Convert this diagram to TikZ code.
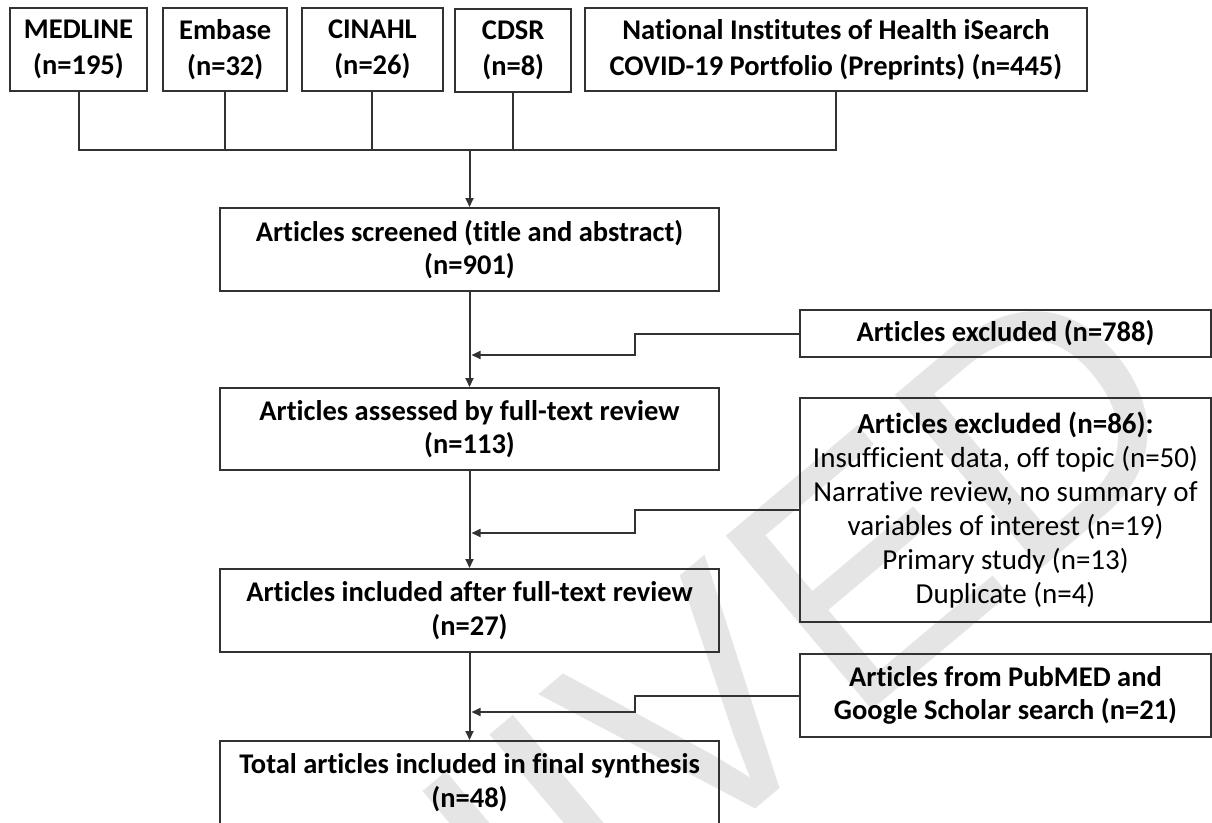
\documentclass[tikz,border=0pt]{standalone}
\usepackage{fontspec}
\setmainfont{Carlito}[Ligatures=NoCommon]
\newfontfamily\wmfont{Liberation Sans}
\usetikzlibrary{arrows.meta}
\definecolor{lc}{RGB}{50,50,50}
\definecolor{wm}{RGB}{229,229,229}
\tikzset{
  box/.style={draw=lc, line width=2pt, align=center, inner sep=0pt,
    font=\bfseries\fontsize{28.5}{33.5}\selectfont},
  topbox/.style={box, font=\bfseries\fontsize{28.5}{36}\selectfont},
  listbox/.style={draw=lc, line width=2pt, align=center, inner sep=0pt,
    font=\fontsize{29}{34}\selectfont},
  conn/.style={draw=lc, line width=2pt},
  arr/.style={conn, -{Triangle[length=9pt,width=8pt]}},
  wmark/.style={text=wm, font=\wmfont\fontsize{330}{330}\selectfont, inner sep=0pt}
}
\begin{document}
\begin{tikzpicture}[x=1pt,y=-1pt]
\useasboundingbox (0,0) rectangle (1212,822);
\clip (0,0) rectangle (1212,822);
% watermark
\node[wmark, rotate=40, anchor=east] (wm) at (1130,346) {ARCHIVED};

% top row
\node[topbox, minimum width=137.7pt, minimum height=82.4pt] (med) at (78.5,49.5) {MEDLINE\\(n=195)};
\node[topbox, minimum width=123.6pt, minimum height=82.4pt] (emb) at (225.2,49.5) {Embase\\(n=32)};
\node[topbox, minimum width=141.6pt, minimum height=82.4pt] (cin) at (372.4,49.5) {CINAHL\\(n=26)};
\node[topbox, minimum width=115.6pt, minimum height=83pt] (cds) at (513.2,50.8) {CDSR\\(n=8)};
\node[topbox, minimum width=502pt, minimum height=82.4pt] (nih) at (835.9,49.5) {National Institutes of Health iSearch\\COVID-19 Portfolio (Preprints) (n=445)};

% main column
\node[box, minimum width=499pt, minimum height=83pt] (scr) at (469.5,249.5) {Articles screened (title and abstract)\\(n=901)};
\node[box, minimum width=499pt, minimum height=82pt] (ass) at (469.5,429) {Articles assessed by full-text review\\(n=113)};
\node[box, minimum width=499pt, minimum height=83pt] (inc) at (469.5,610.5) {Articles included after full-text review\\(n=27)};
\node[box, minimum width=499pt, minimum height=83pt] (fin) at (469.5,782.5) {Total articles included in final synthesis\\(n=48)};

% right column
\node[box, minimum width=411pt, minimum height=47pt] (ex1) at (1005.5,333.5) {Articles excluded (n=788)};
\node[listbox, minimum width=411pt, minimum height=224pt] (ex2) at (1005.5,510) {\textbf{Articles excluded (n=86):}\\Insufficient data, off topic (n=50)\\Narrative review, no summary of\\variables of interest (n=19)\\Primary study (n=13)\\Duplicate (n=4)};
\node[box, minimum width=411pt, minimum height=83pt] (pub) at (1005.5,695.5) {Articles from PubMED and\\Google Scholar search (n=21)};

% merge of the sources
\coordinate (jn) at (469.5,150);
\draw[conn] (med.south) -- (med.south |- jn) -- (nih.south |- jn) -- (nih.south);
\draw[conn] (emb.south) -- (emb.south |- jn);
\draw[conn] (cin.south) -- (cin.south |- jn);
\draw[conn] (cds.south) -- (cds.south |- jn);
\draw[arr] (jn) -- (scr.north);

% main flow
\draw[arr] (scr.south) -- (ass.north);
\draw[arr] (ass.south) -- (inc.north);
\draw[arr] (inc.south) -- (fin.north);

% side connectors
\coordinate (t1) at (471.5,355);
\coordinate (t2) at (471.5,533);
\coordinate (t3) at (471.5,712);
\draw[arr] (ex1.west) -- ++(-164,0) |- (t1);
\draw[arr] (ex2.west) -- ++(-164,0) |- (t2);
\draw[arr] (pub.west) -- ++(-164,0) |- (t3);
\end{tikzpicture}
\end{document}
